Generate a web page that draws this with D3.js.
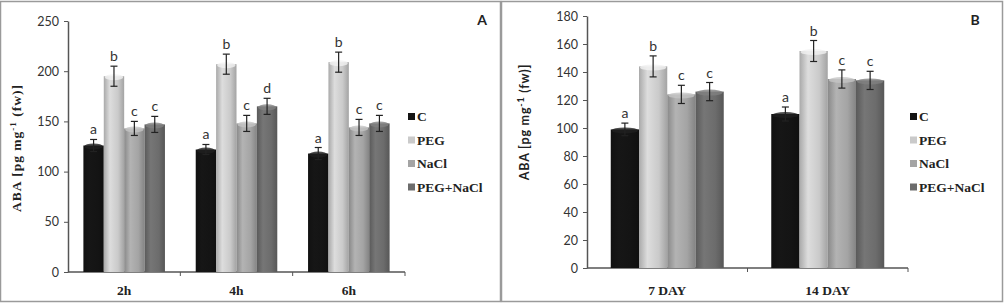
<!DOCTYPE html>
<html>
<head>
<meta charset="utf-8">
<script src="https://cdn.jsdelivr.net/npm/d3@7"></script>
<style>
  body { margin: 0; background: #fff; }
  svg { display: block; }
</style>
</head>
<body>
<div id="chart"></div>
<script>
// treatments shared by both panels
const treatments = ["C", "PEG", "NaCl", "PEG+NaCl"];
const barColors = ["#141414", "#cacaca", "#a4a4a4", "#6c6c6c"];

// panel A: ABA after hours
const hoursLabels = ["2h", "4h", "6h"];
const hoursValues = [
    [126, 195, 143, 147],
    [122, 207, 148, 165],
    [118, 209, 144, 148]
];
const hoursErrors = [
    [6, 10, 7, 8],
    [5, 10, 8, 8],
    [6, 10, 8, 8]
];
const hoursLetters = [
    ["a", "b", "c", "c"],
    ["a", "b", "c", "d"],
    ["a", "b", "c", "c"]
];
const hoursTicks = [0, 50, 100, 150, 200, 250];

// panel B: ABA after days
const dayLabels = ["7 DAY", "14 DAY"];
const dayValues = [
    [99, 144, 124, 126],
    [110, 155, 135, 134]
];
const dayErrors = [
    [4.5, 7.5, 6.5, 6.5],
    [5, 7.5, 6.5, 6.5]
];
const dayLetters = [
    ["a", "b", "c", "c"],
    ["a", "b", "c", "c"]
];
const dayTicks = [0, 20, 40, 60, 80, 100, 120, 140, 160, 180];

const svg = d3.select("#chart").append("svg")
    .attr("width", 1004)
    .attr("height", 305);

// cylinder-ish shading for each bar colour
const defs = svg.append("defs");
barColors.forEach((c, i) => {
    let base = d3.color(c);
    let grad = defs.append("linearGradient")
        .attr("id", "grad" + i)
        .attr("x1", "0%").attr("x2", "100%");
    grad.append("stop").attr("offset", "0%").attr("stop-color", base.darker(0.5));
    grad.append("stop").attr("offset", "30%").attr("stop-color", base.brighter(0.25));
    grad.append("stop").attr("offset", "70%").attr("stop-color", base);
    grad.append("stop").attr("offset", "100%").attr("stop-color", base.darker(0.6));
});

function drawPanel(cfg) {
    let g = svg.append("g");

    // frame
    g.append("rect")
        .attr("x", cfg.frame[0] + 0.5)
        .attr("y", 1.5)
        .attr("width", cfg.frame[1] - cfg.frame[0])
        .attr("height", 300)
        .attr("fill", "none")
        .attr("stroke", "#9a9a9a")
        .attr("stroke-width", 1.5);

    let y = d3.scaleLinear()
        .domain([0, cfg.max])
        .range([cfg.bottom, cfg.top]);

    let x0 = d3.scaleBand()
        .domain(cfg.categories)
        .range([cfg.left, cfg.right])
        .paddingInner(cfg.pad * 2)
        .paddingOuter(cfg.pad);

    let x1 = d3.scaleBand()
        .domain(treatments)
        .range([0, x0.bandwidth()]);

    // y axis
    let yAxis = g.append("g")
        .attr("transform", `translate(${cfg.left},0)`)
        .call(d3.axisLeft(y).tickValues(cfg.ticks).tickSize(4).tickSizeOuter(0));
    yAxis.select(".domain").attr("stroke", "#555").attr("stroke-width", 1.5);
    yAxis.selectAll(".tick line").attr("stroke", "#555");
    yAxis.selectAll("text")
        .attr("x", -9)
        .style("font-family", "Lato, 'Open Sans', sans-serif")
        .style("font-size", "12.5px")
        .style("fill", "#333");

    // x axis, ticks between categories
    let step = (cfg.right - cfg.left) / cfg.categories.length;
    g.append("line")
        .attr("x1", cfg.left).attr("x2", cfg.right)
        .attr("y1", cfg.bottom).attr("y2", cfg.bottom)
        .attr("stroke", "#555").attr("stroke-width", 1.5);
    g.selectAll(".xtick")
        .data(d3.range(1, cfg.categories.length + 1))
        .join("line")
        .attr("x1", d => cfg.left + d * step)
        .attr("x2", d => cfg.left + d * step)
        .attr("y1", cfg.bottom)
        .attr("y2", cfg.bottom + 4)
        .attr("stroke", "#555");

    g.selectAll(".xlabel")
        .data(cfg.categories)
        .join("text")
        .attr("x", d => x0(d) + x0.bandwidth() / 2)
        .attr("y", 295)
        .attr("text-anchor", "middle")
        .style("font-family", "'Liberation Serif', 'DejaVu Serif', serif")
        .style("font-weight", "bold")
        .style("font-size", "13.5px")
        .style("fill", "#222")
        .text(d => d);

    // bars
    let rows = [];
    cfg.categories.forEach((cat, i) => {
        treatments.forEach((t, j) => {
            rows.push({cat, t, j, v: cfg.values[i][j], e: cfg.errors[i][j], l: cfg.letters[i][j]});
        });
    });

    let bars = g.selectAll(".bar")
        .data(rows)
        .join("g")
        .attr("transform", d => `translate(${x0(d.cat) + x1(d.t)},0)`);

    bars.append("rect")
        .attr("y", d => y(d.v))
        .attr("width", x1.bandwidth())
        .attr("height", d => cfg.bottom - y(d.v))
        .attr("fill", d => `url(#grad${d.j})`);

    // lighter cap on top of each bar
    bars.append("ellipse")
        .attr("cx", x1.bandwidth() / 2)
        .attr("cy", d => y(d.v) + 1)
        .attr("rx", x1.bandwidth() / 2 - 1)
        .attr("ry", 3)
        .attr("fill", d => d3.color(barColors[d.j]).brighter(d.j === 0 ? 1.2 : 0.5))
        .attr("opacity", 0.8);

    // error bars
    let cx = x1.bandwidth() / 2;
    bars.append("line")
        .attr("x1", cx).attr("x2", cx)
        .attr("y1", d => y(d.v + d.e))
        .attr("y2", d => y(d.v - d.e))
        .attr("stroke", "#222").attr("stroke-width", 1.2);
    [1, -1].forEach(s => {
        bars.append("line")
            .attr("x1", cx - 3.5).attr("x2", cx + 3.5)
            .attr("y1", d => y(d.v + s * d.e))
            .attr("y2", d => y(d.v + s * d.e))
            .attr("stroke", "#222").attr("stroke-width", 1.2);
    });

    bars.append("text")
        .attr("x", cx)
        .attr("y", d => y(d.v + d.e) - 5)
        .attr("text-anchor", "middle")
        .style("font-family", "Lato, 'Open Sans', sans-serif")
        .style("font-size", "14px")
        .style("fill", "#333")
        .text(d => d.l);

    // y axis title
    let title = g.append("text")
        .attr("transform", `translate(${cfg.titleX},${cfg.titleY}) rotate(-90)`)
        .attr("text-anchor", "middle")
        .style("font-family", cfg.titleFont)
        .style("font-weight", "bold")
        .style("font-size", cfg.titleSize)
        .style("letter-spacing", cfg.titleSpacing)
        .style("fill", "#222");
    title.append("tspan").text(cfg.titleSerif ? "ABA  [pg mg" : "ABA [pg mg");
    title.append("tspan").attr("baseline-shift", "super").style("font-size", "9px").text("-1");
    title.append("tspan").text(" (fw)]");

    // legend
    let legend = g.selectAll(".legend")
        .data(treatments)
        .join("g")
        .attr("transform", (d, i) => `translate(${cfg.legendX},${117 + i * 23.5})`);
    legend.append("rect")
        .attr("x", 0).attr("y", -4)
        .attr("width", 7).attr("height", 7)
        .attr("fill", (d, i) => barColors[i]);
    legend.append("text")
        .attr("x", 9)
        .attr("y", 4)
        .style("font-family", "'Liberation Serif', 'DejaVu Serif', serif")
        .style("font-weight", "bold")
        .style("font-size", "13.5px")
        .style("fill", "#222")
        .text(d => d);

    // panel letter
    g.append("text")
        .attr("x", cfg.letterX)
        .attr("y", 25)
        .attr("text-anchor", "middle")
        .style("font-family", "Lato, 'Open Sans', sans-serif")
        .style("font-weight", "bold")
        .style("font-size", "14px")
        .style("fill", "#222")
        .text(cfg.letter);
}

drawPanel({
    frame: [0, 500],
    categories: hoursLabels,
    values: hoursValues,
    errors: hoursErrors,
    letters: hoursLetters,
    ticks: hoursTicks,
    max: 250,
    left: 68, right: 405, top: 21, bottom: 272,
    pad: 0.137,
    titleX: 21, titleY: 148,
    titleFont: "'Liberation Serif', 'DejaVu Serif', serif", titleSerif: true,
    titleSize: "13.5px", titleSpacing: "1px",
    legendX: 408,
    letterX: 482, letter: "A"
});

drawPanel({
    frame: [501, 1002],
    categories: dayLabels,
    values: dayValues,
    errors: dayErrors,
    letters: dayLetters,
    ticks: dayTicks,
    max: 180,
    left: 587, right: 908, top: 16, bottom: 268,
    pad: 0.148,
    titleX: 529, titleY: 122,
    titleFont: "Lato, 'Open Sans', sans-serif", titleSerif: false,
    titleSize: "12.5px", titleSpacing: "0.8px",
    legendX: 910,
    letterX: 975, letter: "B"
});
</script>
</body>
</html>
